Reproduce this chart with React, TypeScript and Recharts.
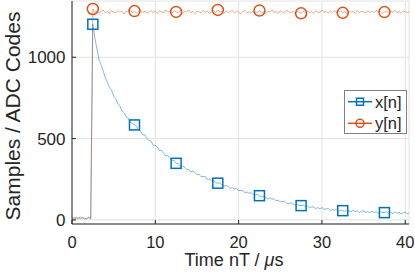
import { CartesianGrid, ComposedChart, Legend, Line, XAxis, YAxis } from "recharts";

// sample period in µs, sample n sits at t = n * T
const T_SAMPLE = 0.25;
const X_MAX = 40.45;

// x[n]: pulse response
const X_SAMPLES = [
    9, 15, 6, 13, 8, 18, 5, 11, 14, 7,
    1203, 1116, 1050, 984, 953, 916, 873, 847, 815, 798, 761, 747, 716, 701, 670, 660, 633, 626, 601, 593,
    584, 575, 552, 544, 522, 523, 500, 489, 484, 459, 457, 447, 427, 428, 408, 394, 395, 382, 367, 365,
    348, 347, 329, 332, 326, 311, 310, 294, 301, 290, 279, 281, 265, 267, 266, 248, 251, 241, 242, 228,
    226, 228, 214, 208, 212, 206, 194, 201, 190, 195, 180, 181, 181, 167, 172, 164, 168, 155, 155, 157,
    149, 141, 146, 140, 129, 136, 127, 131, 117, 121, 110, 114, 115, 103, 99, 105, 99, 90, 98, 89,
    88, 91, 81, 88, 75, 80, 80, 69, 76, 69, 76, 64, 68, 70, 58, 65, 59, 65, 55, 60,
    57, 52, 61, 57, 49, 60, 50, 56, 46, 54, 55, 46, 51, 44, 54, 46, 51, 41, 49, 47,
    45, 50, 40, 47, 39, 49, 41, 47, 36, 44, 47, 38, 44,
];

// y[n]: step output
const Y_SAMPLES = [
    12, 4, 16, 9, 19, 7, 13, 5, 17, 10,
    1297, 1276, 1285, 1271, 1283, 1290, 1274, 1281, 1268, 1286, 1279, 1273, 1288, 1277, 1282, 1266, 1284, 1279, 1292, 1275,
    1284, 1271, 1280, 1289, 1274, 1283, 1270, 1278, 1287, 1276, 1282, 1269, 1285, 1279, 1273, 1291, 1277, 1281, 1272, 1286,
    1279, 1274, 1288, 1270, 1283, 1277, 1292, 1275, 1281, 1268, 1285, 1279, 1273, 1289, 1276, 1283, 1271, 1280, 1287, 1274,
    1291, 1278, 1283, 1269, 1286, 1275, 1281, 1290, 1272, 1284, 1277, 1266, 1282, 1288, 1274, 1280, 1271, 1285, 1279, 1276,
    1287, 1273, 1281, 1270, 1284, 1278, 1293, 1275, 1282, 1269, 1286, 1277, 1272, 1289, 1280, 1274, 1283, 1267, 1285, 1278,
    1270, 1283, 1276, 1288, 1273, 1281, 1269, 1286, 1279, 1274, 1290, 1277, 1282, 1271, 1284, 1276, 1288, 1272, 1280, 1285,
    1273, 1281, 1268, 1286, 1277, 1283, 1270, 1289, 1275, 1282, 1279, 1271, 1287, 1276, 1284, 1273, 1290, 1278, 1281, 1269,
    1278, 1285, 1272, 1283, 1276, 1289, 1274, 1281, 1270, 1286, 1279, 1275, 1283,
];

// markers every 20 samples (5 µs), from the first sample after the edge
const MARKER_START = 10;
const MARKER_STEP = 20;

const X_TICKS = [0, 10, 20, 30, 40];
const Y_TICKS = [0, 500, 1000];
const Y_DOMAIN = [-25, 1346];

const BLUE = "#0072BD";
const ORANGE = "#D95319";
const INK = "#262626";
const FONT = "'Liberation Sans', Arial, Helvetica, sans-serif";

const data = X_SAMPLES.map((x, n) => ({ t: n * T_SAMPLE, x, y: Y_SAMPLES[n] }));

const isMarker = (i: number) => i >= MARKER_START && (i - MARKER_START) % MARKER_STEP === 0;

const squareDot = (p: any) =>
    isMarker(p.index) ? (
        <rect key={`sq-${p.index}`} x={p.cx - 5} y={p.cy - 5} width={10} height={10} fill="none" stroke={BLUE} strokeWidth={1.5} />
    ) : (
        <g key={`sq-${p.index}`} />
    );

const circleDot = (p: any) =>
    isMarker(p.index) ? (
        <circle key={`ci-${p.index}`} cx={p.cx} cy={p.cy} r={5.5} fill="none" stroke={ORANGE} strokeWidth={1.5} />
    ) : (
        <g key={`ci-${p.index}`} />
    );

function LegendBox() {
    return (
        <svg width={63} height={44} style={{ display: "block" }}>
            <rect x={0.5} y={0.5} width={62} height={43} fill="#fff" stroke="#808080" strokeWidth={1} />
            <line x1={4} x2={28} y1={11.7} y2={11.7} stroke={BLUE} strokeWidth={1.5} />
            <rect x={12.5} y={8.2} width={7} height={7} fill="none" stroke={BLUE} strokeWidth={1.5} />
            <text x={31} y={17.5} fontSize={16.5} fill={INK} fontFamily={FONT}>x[n]</text>
            <line x1={4} x2={28} y1={33.3} y2={33.3} stroke={ORANGE} strokeWidth={1.5} />
            <circle cx={16} cy={33.3} r={4} fill="none" stroke={ORANGE} strokeWidth={1.5} />
            <text x={31} y={39.1} fontSize={16.5} fill={INK} fontFamily={FONT}>y[n]</text>
        </svg>
    );
}

const XLabel = () => (
    <text x={234} y={266} textAnchor="middle" fontSize={18} fill={INK} fontFamily={FONT}>
        Time nT / <tspan fontStyle="italic">μ</tspan>s
    </text>
);

const YLabel = () => (
    <text x={19.5} y={116} transform="rotate(-90, 19.5, 116)" textAnchor="middle" fontSize={21} fill={INK} fontFamily={FONT}>
        Samples / ADC Codes
    </text>
);

const yTickStyle = { fontSize: 17, fill: INK, fontFamily: FONT };
const xTickStyle = { fontSize: 16.5, fill: INK, fontFamily: FONT };

export default function App() {
    return (
        <div style={{ width: 415, height: 277, fontFamily: FONT }}>
            <style>{"body{margin:0}"}</style>
            <ComposedChart width={415} height={277} data={data} margin={{ top: 1, right: 6, bottom: 0, left: 0 }}>
                <CartesianGrid stroke="#e2e2e2" strokeWidth={1} />
                <XAxis
                    type="number"
                    dataKey="t"
                    domain={[0, X_MAX]}
                    ticks={X_TICKS}
                    allowDataOverflow
                    height={53}
                    tickSize={-4}
                    tickMargin={16}
                    axisLine={{ stroke: INK }}
                    tickLine={{ stroke: INK }}
                    tick={xTickStyle}
                    label={{ content: XLabel }}
                />
                <XAxis
                    xAxisId="top"
                    orientation="top"
                    type="number"
                    dataKey="t"
                    domain={[0, X_MAX]}
                    ticks={X_TICKS}
                    allowDataOverflow
                    height={0}
                    tickSize={-4}
                    tick={false}
                    axisLine={{ stroke: INK }}
                    tickLine={{ stroke: INK }}
                />
                <YAxis
                    type="number"
                    domain={Y_DOMAIN}
                    ticks={Y_TICKS}
                    allowDataOverflow
                    width={72}
                    tickSize={-4}
                    tickMargin={10.5}
                    axisLine={{ stroke: INK }}
                    tickLine={{ stroke: INK }}
                    tick={yTickStyle}
                    label={{ content: YLabel }}
                />
                <YAxis
                    yAxisId="right"
                    orientation="right"
                    type="number"
                    domain={Y_DOMAIN}
                    ticks={Y_TICKS}
                    allowDataOverflow
                    width={0}
                    tickSize={-4}
                    tick={false}
                    axisLine={{ stroke: INK }}
                    tickLine={{ stroke: INK }}
                />
                <Line
                    type="linear"
                    dataKey="x"
                    name="x[n]"
                    stroke={BLUE}
                    strokeWidth={0.9}
                    strokeOpacity={0.55}
                    dot={squareDot}
                    activeDot={false}
                    isAnimationActive={false}
                />
                <Line
                    type="linear"
                    dataKey="y"
                    name="y[n]"
                    stroke={ORANGE}
                    strokeWidth={0.9}
                    strokeOpacity={0.55}
                    dot={circleDot}
                    activeDot={false}
                    isAnimationActive={false}
                />
                <Legend
                    layout="horizontal"
                    align="center"
                    verticalAlign="middle"
                    wrapperStyle={{ left: 344, top: 90, width: 63, height: 44 }}
                    content={() => <LegendBox />}
                />
            </ComposedChart>
        </div>
    );
}
